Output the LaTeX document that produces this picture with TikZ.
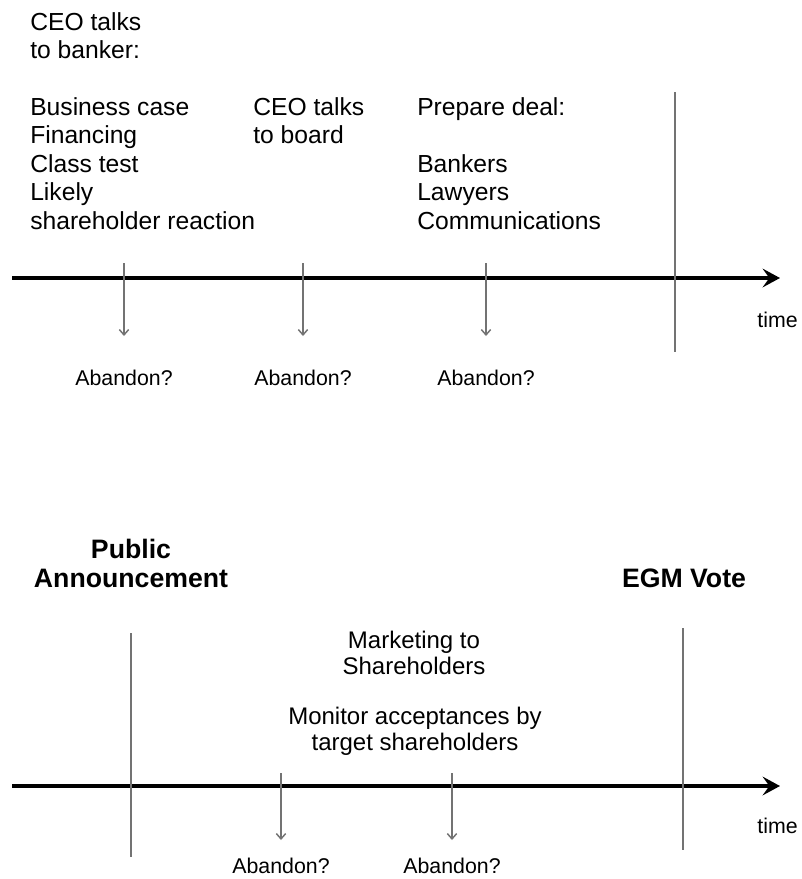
\documentclass[tikz,border=0pt]{standalone}
\usepackage{fontspec}
\setmainfont{Liberation Sans}
\usetikzlibrary{arrows.meta}

\tikzset{
    body/.style={font=\fontsize{18.5}{21.4}\selectfont, align=left, anchor=north west, inner sep=0pt},
    head/.style={font=\bfseries\fontsize{20}{22}\selectfont, align=center, anchor=north, inner sep=0pt},
    midtext/.style={font=\fontsize{18}{19}\selectfont, align=center, anchor=north, inner sep=0pt},
    small/.style={font=\fontsize{16}{19}\selectfont, inner sep=0pt},
    axis/.style={line width=2.4pt, -{Stealth[length=13pt, width=14pt, inset=5pt]}},
    divider/.style={gray!90!black, line width=1.1pt},
    drop/.style={gray!90!black, line width=1.1pt, -{Straight Barb[length=4pt, width=7pt]}}
}

\begin{document}
\begin{tikzpicture}[x=0.75pt, y=-0.75pt]
    \useasboundingbox (0,0) rectangle (801,879);

    % before the announcement
    \node[body] (banker) at (30,12) {CEO talks\\to banker:};
    \node[body] (case) at (30,97) {Business case\\Financing\\Class test\\Likely\\shareholder reaction};
    \node[body] (board) at (253,97) {CEO talks\\to board};
    \node[body] (deal) at (417,97) {Prepare deal:\\[21.4pt]Bankers\\Lawyers\\Communications};

    \coordinate (ta) at (12,278);
    \coordinate (tb) at (780,278);
    \draw[axis] (ta) -- (tb);
    \node[small, anchor=base east] (time1) at (798,327) {time};

    \coordinate (d1) at (675,92);
    \coordinate (d2) at (675,352);
    \draw[divider] (d1) -- (d2);

    \foreach \x/\n in {124/1, 303/2, 486/3} {
        \coordinate (k\n) at (\x,263);
        \coordinate (e\n) at (\x,336);
        \draw[drop] (k\n) -- (e\n);
        \node[small, anchor=base] (ab\n) at (\x,385) {Abandon?};
    }

    % after the announcement
    \node[head] (public) at (131,539) {Public\\Announcement};
    \node[head] (egm) at (684,569) {EGM Vote};
    \node[midtext] (market) at (414,631) {Marketing to\\Shareholders};
    \node[midtext] (monitor) at (415,707) {Monitor acceptances by\\target shareholders};

    \coordinate (ua) at (12,786);
    \coordinate (ub) at (780,786);
    \draw[axis] (ua) -- (ub);
    \node[small, anchor=base east] (time2) at (798,833) {time};

    \coordinate (p1) at (131,633);
    \coordinate (p2) at (131,857);
    \draw[divider] (p1) -- (p2);
    \coordinate (v1) at (683,628);
    \coordinate (v2) at (683,850);
    \draw[divider] (v1) -- (v2);

    \foreach \x/\n in {281/4, 452/5} {
        \coordinate (k\n) at (\x,773);
        \coordinate (e\n) at (\x,840);
        \draw[drop] (k\n) -- (e\n);
        \node[small, anchor=base] (ab\n) at (\x,873) {Abandon?};
    }
\end{tikzpicture}
\end{document}
